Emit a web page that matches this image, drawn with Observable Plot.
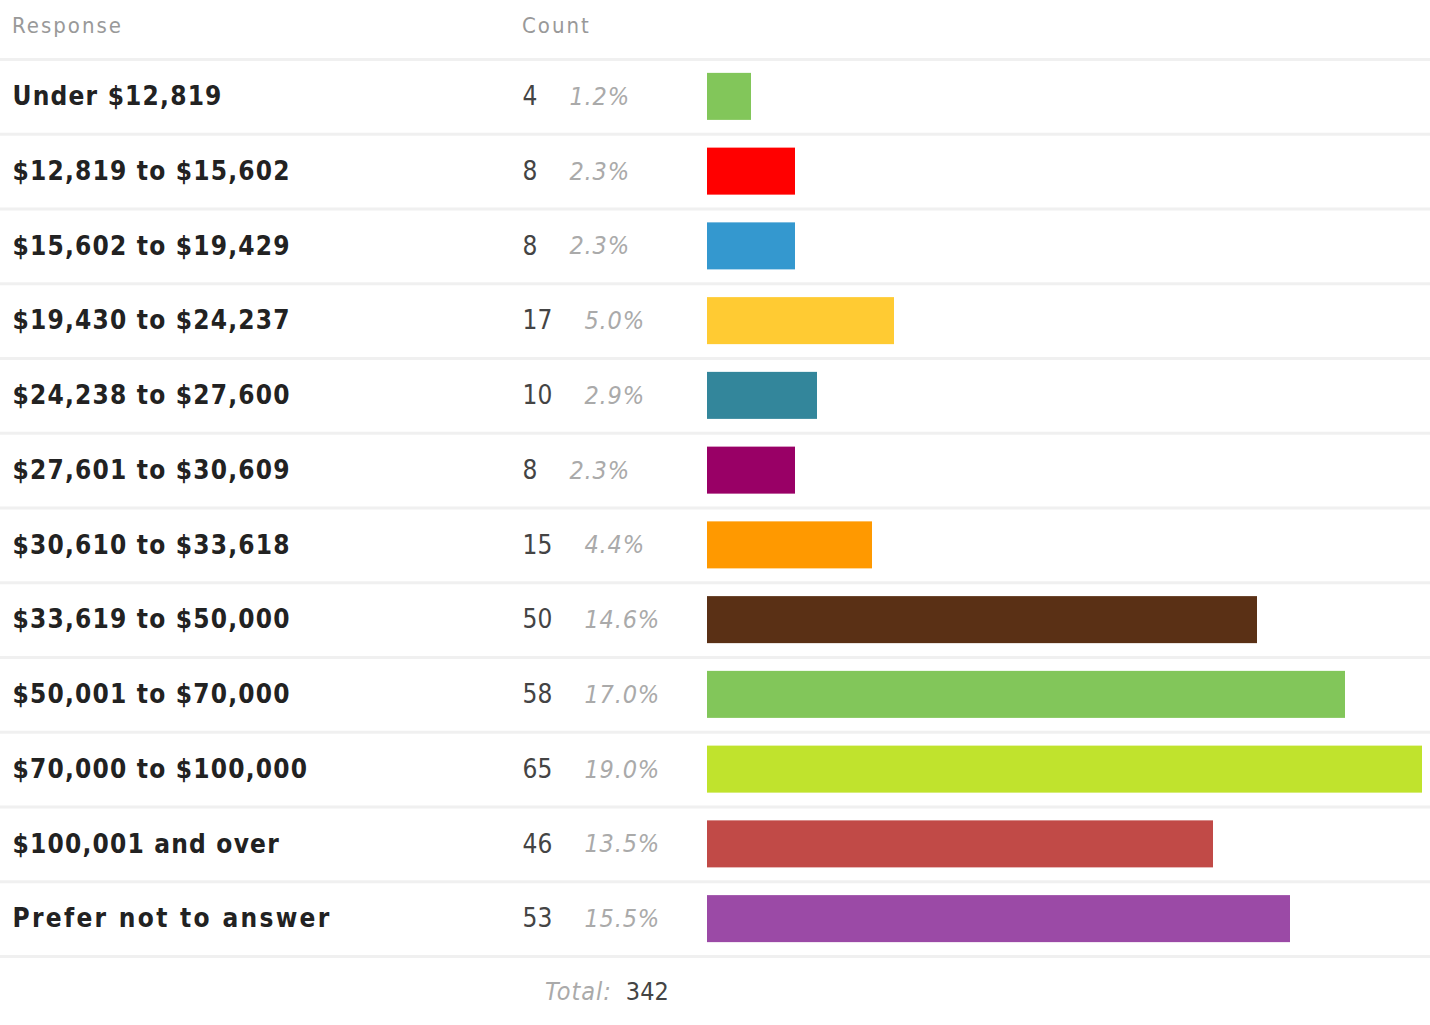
<!DOCTYPE html>
<html><head><meta charset="utf-8">
<script src="https://cdn.jsdelivr.net/npm/d3@7"></script>
<script src="https://cdn.jsdelivr.net/npm/@observablehq/plot@0.6"></script>
<style>
body{margin:0;background:#fff;font-family:"DejaVu Sans Condensed","DejaVu Sans",sans-serif;font-stretch:condensed;}
#wrap{position:relative;width:1430px;height:1025px;overflow:hidden;}
.hdr{position:absolute;top:0;height:52px;line-height:52px;font-size:22px;letter-spacing:2px;color:#999;}
#chart{position:absolute;left:0;top:57px;}
#chart svg{display:block;}
#total{position:absolute;top:957px;height:70px;line-height:70px;left:545px;font-size:25px;white-space:nowrap;}
#total .lab{font-style:italic;color:#aaa;letter-spacing:1px;}
#total .val{color:#444;margin-left:14px;}
</style></head><body>
<div id="wrap">
  <div class="hdr" style="left:12px">Response</div>
  <div class="hdr" style="left:522px">Count</div>
  <div id="chart"></div>
  <div id="total"><span class="lab">Total:</span><span class="val" id="totalVal"></span></div>
</div>
<script>
const responses = ["Under $12,819","$12,819 to $15,602","$15,602 to $19,429","$19,430 to $24,237","$24,238 to $27,600","$27,601 to $30,609","$30,610 to $33,618","$33,619 to $50,000","$50,001 to $70,000","$70,000 to $100,000","$100,001 and over","Prefer not to answer"];
const counts = [4, 8, 8, 17, 10, 8, 15, 50, 58, 65, 46, 53];
const percents = ["1.2%","2.3%","2.3%","5.0%","2.9%","2.3%","4.4%","14.6%","17.0%","19.0%","13.5%","15.5%"];
const colors = ["#82c65a","#ff0000","#3498cf","#ffcb33","#33869b","#990066","#ff9900","#5a3015","#82c65a","#c0e32d","#c14a47","#9b4aa6"];
const total = 342;

const rows = responses.map((r, i) => ({response: r, count: counts[i], pct: percents[i], color: colors[i]}));
const font = '"DejaVu Sans Condensed","DejaVu Sans",sans-serif';

const chart = Plot.plot({
  width: 1430, height: 901,
  marginLeft: 707, marginRight: 8, marginTop: 2, marginBottom: 2,
  x: {domain: [0, 65], axis: null},
  y: {domain: responses, axis: null, paddingInner: 0.371, paddingOuter: 0.1855, round: false},
  color: {type: "identity"},
  style: {fontFamily: font, background: "white", fontStretch: "condensed"},
  marks: [
    Plot.ruleY(rows, {y: "response", dy: -37.375, stroke: "#f0f0f0", strokeWidth: 3, insetLeft: -707, insetRight: -8}),
    Plot.ruleY(rows.slice(-1), {y: "response", dy: 37.375, stroke: "#f0f0f0", strokeWidth: 3, insetLeft: -707, insetRight: -8}),
    Plot.barX(rows, {x: "count", y: "response", fill: "color"}),
    Plot.text(rows, {y: "response", text: "response", frameAnchor: "left", textAnchor: "start", dx: -695, fontWeight: "bold", fontSize: 26, fill: "#222", className: "lbl"}),
    Plot.text(rows, {y: "response", text: d => String(d.count), frameAnchor: "left", textAnchor: "start", dx: -185, fontSize: 26, fill: "#444"}),
    Plot.text(rows, {filter: d => d.count < 10, y: "response", text: "pct", frameAnchor: "left", textAnchor: "start", dx: -138, fontSize: 25, fontStyle: "italic", fill: "#aaa", className: "pct"}),
    Plot.text(rows, {filter: d => d.count >= 10, y: "response", text: "pct", frameAnchor: "left", textAnchor: "start", dx: -123, fontSize: 25, fontStyle: "italic", fill: "#aaa", className: "pct"})
  ]
});
chart.querySelectorAll(".lbl text").forEach(t => {
  t.style.letterSpacing = t.textContent === "Prefer not to answer" ? "2.3px" : "1.2px";
});
chart.querySelectorAll(".pct text").forEach(t => { t.style.letterSpacing = "0.8px"; });
document.getElementById("chart").appendChild(chart);
document.getElementById("totalVal").textContent = String(total);
</script>
</body></html>
